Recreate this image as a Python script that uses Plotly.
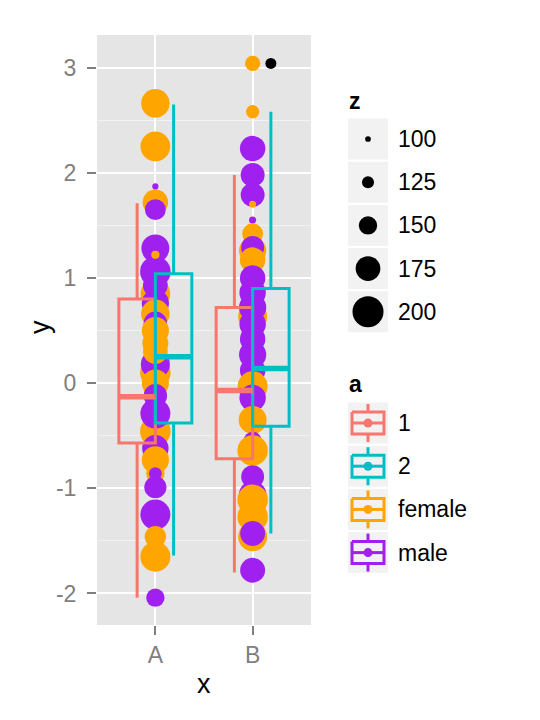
import plotly.graph_objects as go

# ---------------- data ----------------
categories = ["A", "B"]
y_ticks = [-2, -1, 0, 1, 2, 3]

# boxplot statistics per colour group "a" (rows) and category (columns)
box_groups = ["1", "2"]
box_colors = ["#F8766D", "#00BFC4"]
box_lowerfence = [[-2.04, -1.80], [-1.64, -1.43]]
box_q1 = [[-0.57, -0.72], [-0.38, -0.41]]
box_median = [[-0.13, -0.07], [0.25, 0.14]]
box_q3 = [[0.80, 0.72], [1.04, 0.90]]
box_upperfence = [[1.71, 1.98], [2.65, 2.58]]

# outliers of the boxplots
outlier_x = ["B"]
outlier_group = ["2"]
outlier_y = [3.04]

# points (x category, y, size variable z, gender)
point_x = ["A"] * 31 + ["B"] * 31
point_y = [
    2.66, 2.25, 1.72, 1.65, 1.87, 1.28, 1.06, 1.22, 0.85, 0.93,
    0.76, 0.66, 0.57, 0.50, 0.38, 0.10, 0.18, 0.00, -0.12, -0.46,
    -0.29, -0.62, -0.73, -0.86, -0.86, -0.99, -1.25, -1.46, -1.65, -2.04,
    0.30,
    3.04, 2.58, 2.23, 1.98, 1.79, 1.70, 1.55, 1.42, 1.26, 1.29,
    1.17, 1.00, 0.63, 0.86, 0.72, 0.56, 0.42, 0.27, 0.12, -0.03,
    -0.14, -0.35, -0.55, -0.64, -0.89, -1.06, -1.11, -1.27, -1.46, -1.43,
    -1.78,
]
point_z = [
    190, 195, 178, 160, 102, 188, 198, 110, 195, 175,
    185, 190, 170, 185, 180, 198, 192, 185, 170, 198,
    196, 182, 185, 150, 128, 165, 196, 162, 196, 150,
    175,
    138, 130, 178, 172, 172, 105, 106, 160, 185, 168,
    178, 178, 192, 182, 185, 182, 178, 185, 178, 196,
    182, 188, 150, 198, 168, 186, 198, 198, 192, 176,
    176,
]
point_gender = [
    "female", "female", "female", "male", "male", "male", "male", "female", "female", "male",
    "male", "female", "male", "female", "female", "female", "male", "female", "male", "female",
    "male", "male", "female", "female", "male", "male", "male", "female", "female", "male",
    "female",
    "female", "female", "male", "male", "male", "female", "male", "female", "female", "male",
    "female", "male", "female", "male", "male", "male", "male", "male", "male", "female",
    "male", "female", "male", "female", "male", "male", "female", "female", "female", "male",
    "male",
]
gender_names = ["female", "male"]
gender_colors = ["#FFA500", "#A020F0"]

# legends
size_breaks = [100, 125, 150, 175, 200]
colour_labels = ["1", "2", "female", "male"]
colour_values = ["#F8766D", "#00BFC4", "#FFA500", "#A020F0"]

# ---------------- helpers ----------------
W, H = 540, 720
OFF = 8  # page body margin offset
FONT = "Liberation Sans, Arial, sans-serif"
DODGE = 0.75
BOXW = DODGE / len(box_groups)


def size_px(z):
    return 5.7 + (z - 100) * 0.253


def cat_pos(c):
    return categories.index(c) + 1


def group_offset(g):
    i = box_groups.index(g)
    return -DODGE / 2 + BOXW * (i + 0.5)


def fx(p):
    return (p - OFF) / W


def fy(p):
    return 1 - (p - OFF) / H


gcol = dict(zip(gender_names, gender_colors))

fig = go.Figure()

# points (under the boxes)
fig.add_trace(go.Scatter(
    x=[cat_pos(c) for c in point_x], y=point_y, mode="markers",
    marker=dict(size=[size_px(z) for z in point_z],
                color=[gcol[g] for g in point_gender], line=dict(width=0), opacity=1),
    opacity=1, showlegend=False, hoverinfo="skip", xaxis="x", yaxis="y",
))

# boxes on overlay axes (drawn above points)
for gi, g in enumerate(box_groups):
    xs = [cat_pos(c) + group_offset(g) for c in categories]
    fig.add_trace(go.Box(
        x=xs, q1=box_q1[gi], median=box_median[gi], q3=box_q3[gi],
        lowerfence=box_lowerfence[gi], upperfence=box_upperfence[gi],
        width=BOXW, whiskerwidth=0, boxpoints=False,
        fillcolor="rgba(0,0,0,0)", line=dict(color=box_colors[gi], width=3),
        showlegend=False, hoverinfo="skip", xaxis="x2", yaxis="y2",
    ))
    mx, my = [], []
    for ci, c in enumerate(categories):
        x0 = cat_pos(c) + group_offset(g)
        mx += [x0 - BOXW / 2, x0 + BOXW / 2, None]
        my += [box_median[gi][ci], box_median[gi][ci], None]
    fig.add_trace(go.Scatter(
        x=mx, y=my, mode="lines", line=dict(color=box_colors[gi], width=5.5),
        showlegend=False, hoverinfo="skip", xaxis="x2", yaxis="y2",
    ))

fig.add_trace(go.Scatter(
    x=[cat_pos(c) + group_offset(g) for c, g in zip(outlier_x, outlier_group)],
    y=outlier_y, mode="markers", marker=dict(size=11, color="black"),
    showlegend=False, hoverinfo="skip", xaxis="x2", yaxis="y2",
))

# ---------------- legend (drawn on a pixel-scaled hidden axis) ----------------
KEY_X = 368
Z_TOP = 139
A_TOP = 423
STEP = 43.2
TXT = 23
shapes = []
annotations = []

annotations.append(dict(x=347, y=101, xref="x3", yref="y3", text="<b>z</b>", showarrow=False,
                        xanchor="left", yanchor="middle", font=dict(size=TXT, color="black", family=FONT)))
annotations.append(dict(x=347, y=384, xref="x3", yref="y3", text="<b>a</b>", showarrow=False,
                        xanchor="left", yanchor="middle", font=dict(size=TXT, color="black", family=FONT)))

zy = [Z_TOP + STEP * i for i in range(len(size_breaks))]
ay = [A_TOP + STEP * i for i in range(len(colour_labels))]
for cy in zy + ay:
    shapes.append(dict(type="rect", xref="x3", yref="y3", x0=KEY_X - 20, x1=KEY_X + 20,
                       y0=cy - 20.5, y1=cy + 20.5, fillcolor="#F2F2F2", line=dict(width=0), layer="below"))

fig.add_trace(go.Scatter(
    x=[KEY_X] * len(size_breaks), y=zy, mode="markers",
    marker=dict(size=[size_px(z) for z in size_breaks], color="#000000", opacity=1,
                line=dict(width=0)),
    opacity=1, showlegend=False, hoverinfo="skip", xaxis="x3", yaxis="y3",
))
for lab, cy in zip(size_breaks, zy):
    annotations.append(dict(x=396, y=cy, xref="x3", yref="y3", text=str(lab), showarrow=False,
                            xanchor="left", yanchor="middle", font=dict(size=TXT, color="black", family=FONT)))

for lab, col, cy in zip(colour_labels, colour_values, ay):
    l, r = KEY_X - 16, KEY_X + 16
    fig.add_trace(go.Scatter(
        x=[l, r, r, l, l, None, l, r, None, KEY_X, KEY_X, None, KEY_X, KEY_X],
        y=[cy - 11, cy - 11, cy + 11, cy + 11, cy - 11, None, cy, cy, None,
           cy - 19, cy - 11, None, cy + 11, cy + 19],
        mode="lines", line=dict(color=col, width=3), opacity=1,
        showlegend=False, hoverinfo="skip", xaxis="x3", yaxis="y3",
    ))
    fig.add_trace(go.Scatter(
        x=[KEY_X], y=[cy], mode="markers", marker=dict(size=9, color=col, opacity=1),
        opacity=1, showlegend=False, hoverinfo="skip", xaxis="x3", yaxis="y3",
    ))
    annotations.append(dict(x=396, y=cy, xref="x3", yref="y3", text=lab, showarrow=False,
                            xanchor="left", yanchor="middle", font=dict(size=TXT, color="black", family=FONT)))

# axis titles
annotations.append(dict(x=fx(204), y=fy(684), xref="paper", yref="paper", text="x", showarrow=False,
                        xanchor="center", yanchor="middle", font=dict(size=27, color="black", family=FONT)))
annotations.append(dict(x=fx(40), y=fy(327), xref="paper", yref="paper", text="y", showarrow=False,
                        textangle=-90, xanchor="center", yanchor="middle",
                        font=dict(size=27, color="black", family=FONT)))

# panel background
shapes.insert(0, dict(type="rect", xref="x domain", yref="y domain", x0=0, x1=1, y0=0, y1=1,
                      fillcolor="#E5E5E5", line=dict(width=0), layer="below"))

XR = [0.4, 2.6]
YR = [-2.30, 3.31]
xdom = [fx(97), fx(311)]
ydom = [fy(625), fy(35)]

fig.update_layout(
    width=W, height=H, margin=dict(l=0, r=0, t=0, b=0),
    paper_bgcolor="white", plot_bgcolor="rgba(0,0,0,0)",
    boxmode="overlay", showlegend=False,
    font=dict(family=FONT),
    shapes=shapes, annotations=annotations,
    xaxis=dict(domain=xdom, range=XR, tickvals=[cat_pos(c) for c in categories], ticktext=categories,
               showgrid=True, gridcolor="white", gridwidth=2, zeroline=False, showline=False,
               ticks="outside", ticklen=9, tickwidth=2, tickcolor="#7F7F7F",
               tickfont=dict(size=23, color="#7F7F7F", family=FONT), ticklabelstandoff=0,
               automargin=False, fixedrange=True, anchor="y"),
    yaxis=dict(domain=ydom, range=YR, tickvals=y_ticks, ticktext=[str(v) for v in y_ticks],
               showgrid=True, gridcolor="white", gridwidth=2, zeroline=False, showline=False,
               minor=dict(tick0=0.5, dtick=1, showgrid=True, gridcolor="#F2F2F2", gridwidth=1, ticks=""),
               ticks="outside", ticklen=9, tickwidth=2, tickcolor="#7F7F7F",
               tickfont=dict(size=23, color="#7F7F7F", family=FONT), ticklabelstandoff=6,
               automargin=False, fixedrange=True, anchor="x"),
    xaxis2=dict(overlaying="x", range=XR, visible=False, anchor="y2", fixedrange=True),
    yaxis2=dict(overlaying="y", range=YR, visible=False, anchor="x2", fixedrange=True),
    xaxis3=dict(domain=[0.6, 1.0], range=[0.6 * W + OFF, W + OFF], visible=False, anchor="y3", fixedrange=True),
    yaxis3=dict(domain=[0, 1], range=[H + OFF, OFF], visible=False, anchor="x3", fixedrange=True),
)

fig.write_html("out.html")
